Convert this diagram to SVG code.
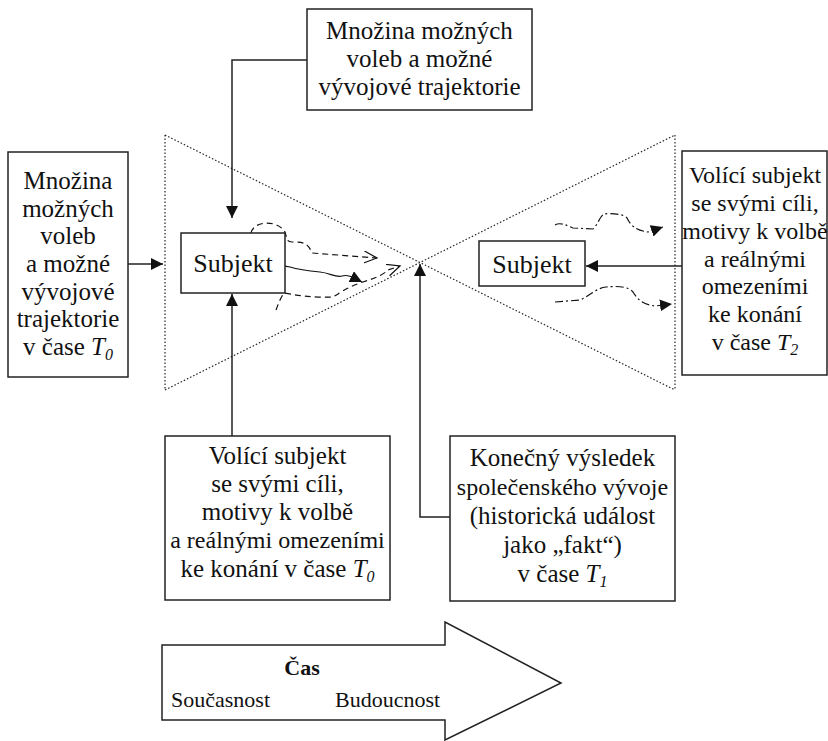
<svg xmlns="http://www.w3.org/2000/svg" width="828" height="741" viewBox="0 0 828 741">
<defs>
<marker id="ah" markerUnits="userSpaceOnUse" markerWidth="14" markerHeight="14" refX="12" refY="6" orient="auto"><path d="M0,0 L12,6 L0,12 z" fill="#111"/></marker>
<marker id="ahs" markerUnits="userSpaceOnUse" markerWidth="14" markerHeight="14" refX="12" refY="6" orient="auto"><path d="M0,0 L12,6 L0,12 z" fill="#111"/></marker>
<marker id="open" markerUnits="userSpaceOnUse" markerWidth="16" markerHeight="14" refX="13" refY="6" orient="auto"><path d="M0,0 L13,6 L0,12" fill="none" stroke="#111" stroke-width="1.2"/></marker>
</defs>
<style>
.box{fill:#fff;stroke:#222;stroke-width:1.5}
.t{font-family:"Liberation Serif","Times New Roman",serif;font-size:25px;fill:#111;text-anchor:middle}
.t24{font-size:24px}
.subj{font-size:26px}
.ts{font-family:"Liberation Serif","Times New Roman",serif;font-size:22px;fill:#111}
.it{font-style:italic}
.sub{font-style:italic;font-size:16px}
.conn{fill:none;stroke:#222;stroke-width:1.5}
.dot{fill:none;stroke:#222;stroke-width:1.2;stroke-dasharray:1.5 2}
.dash{fill:none;stroke:#111;stroke-width:1.2;stroke-dasharray:6 4}
.solid{fill:none;stroke:#111;stroke-width:1.2}
.dd{fill:none;stroke:#111;stroke-width:1.2;stroke-dasharray:8 3 2 3}
</style>

<g id="funnel">
<path class="dot" d="M165,135 V390 M675,135 V390 M165,135 L675,390 M165,390 L675,135"/>
</g>

<g id="curves">
<path class="dash" d="M251,233 C254,220 278,220 285,232 C287,238 286,242 292,242 C304,242 308,243 312,253 L377,258" marker-end="url(#open)"/>
<path class="solid" d="M272,272 C276,266 282,265 290,267 C300,270 310,271 320,272 C330,273 336,278 342,276 C348,274 354,278 362,282" marker-end="url(#ahs)"/>
<path class="dash" d="M276,310 C279,302 281,297 284,293 C296,295 310,298 333,297 C340,293 346,288 360,283 C372,279 382,276 388,270 L400,266" marker-end="url(#open)"/>
<path class="dd" d="M555,225 C560,222 566,225 573,228 L593,229 C597,226 600,216 604,214 C612,213 624,214 627,218 C630,224 634,230 648,232 L663,227" marker-end="url(#ahs)"/>
<path class="dd" d="M555,302 L580,300 C590,296 596,288 606,287 C616,286 628,286 633,292 C638,300 642,304 655,306 L672,304" marker-end="url(#ahs)"/>
</g>

<g id="connectors">
<path class="conn" d="M307,60 H232 V218" marker-end="url(#ah)"/>
<path class="conn" d="M128,264 H163" marker-end="url(#ah)"/>
<path class="conn" d="M232,436 V294" marker-end="url(#ah)"/>
<path class="conn" d="M450,517 H420 V264" marker-end="url(#ah)"/>
<path class="conn" d="M682,266 H586" marker-end="url(#ah)"/>
</g>

<g id="n-top">
<rect class="box" x="307" y="9" width="225" height="101"/>
<text class="t" x="419.5" y="39">Množina možných</text>
<text class="t" x="419.5" y="67">voleb a možné</text>
<text class="t" x="419.5" y="95">vývojové trajektorie</text>
</g>

<g id="n-left">
<rect class="box" x="8" y="152" width="120" height="225"/>
<text class="t" x="68" y="189">Množina</text>
<text class="t" x="68" y="217">možných</text>
<text class="t" x="68" y="244">voleb</text>
<text class="t" x="68" y="272">a možné</text>
<text class="t" x="68" y="300">vývojové</text>
<text class="t" x="68" y="327">trajektorie</text>
<text class="t" x="68" y="355">v čase <tspan class="it">T</tspan><tspan class="sub" dy="5">0</tspan></text>
</g>

<g id="n-subj1">
<rect class="box" x="181" y="233" width="104" height="60"/>
<text class="t subj" x="233" y="272">Subjekt</text>
</g>

<g id="n-subj2">
<rect class="box" x="479" y="241" width="106" height="45"/>
<text class="t subj" x="532" y="273">Subjekt</text>
</g>

<g id="n-right">
<rect class="box" x="682" y="151" width="145" height="224"/>
<text class="t t24" x="755" y="183">Volící subjekt</text>
<text class="t t24" x="755" y="211">se svými cíli,</text>
<text class="t t24" x="755" y="239">motivy k volbě</text>
<text class="t t24" x="755" y="267">a reálnými</text>
<text class="t t24" x="755" y="294">omezeními</text>
<text class="t t24" x="755" y="322">ke konání</text>
<text class="t t24" x="755" y="350">v čase <tspan class="it">T</tspan><tspan class="sub" dy="5">2</tspan></text>
</g>

<g id="n-bottom-left">
<rect class="box" x="165" y="436" width="225" height="164"/>
<text class="t" x="277.5" y="464">Volící subjekt</text>
<text class="t" x="277.5" y="492">se svými cíli,</text>
<text class="t" x="277.5" y="520">motivy k volbě</text>
<text class="t t24" x="277.5" y="548">a reálnými omezeními</text>
<text class="t" x="277.5" y="577">ke konání v čase <tspan class="it">T</tspan><tspan class="sub" dy="5">0</tspan></text>
</g>

<g id="n-bottom-mid">
<rect class="box" x="450" y="436" width="225" height="165"/>
<text class="t" x="562.5" y="466">Konečný výsledek</text>
<text class="t t24" x="562.5" y="495">společenského vývoje</text>
<text class="t" x="562.5" y="524">(historická událost</text>
<text class="t" x="562.5" y="553">jako „fakt“)</text>
<text class="t" x="562.5" y="582">v čase <tspan class="it">T</tspan><tspan class="sub" dy="5">1</tspan></text>
</g>

<g id="time-arrow">
<path class="box" d="M162,645 H445 V622 L561,683 L445,740 V720 H162 Z"/>
<text class="ts" x="302" y="675" text-anchor="middle" font-weight="bold">Čas</text>
<text class="ts" x="171" y="707">Současnost</text>
<text class="ts" x="335" y="707">Budoucnost</text>
</g>
</svg>
